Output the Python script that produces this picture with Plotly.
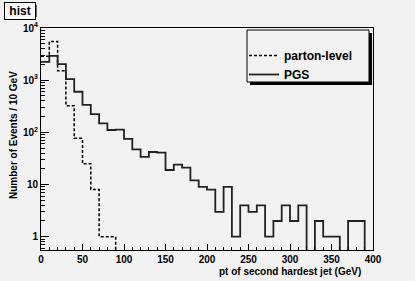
import numpy as np
import plotly.graph_objects as go

# ---- data (events per 10 GeV bin, 0-400 GeV) ----
bin_edges = list(range(0, 410, 10))
pgs_counts = [2250, 2930, 2035, 1050, 600, 336, 224, 149, 111, 113,
              75, 47, 34, 42, 41, 19, 24, 21, 12, 9,
              8, 3, 9, 1, 4, 3, 4, 1, 2, 4,
              2, 4, 0, 2, 1, 1, 0, 2, 2, 0]
parton_counts = [2860, 5540, 1515, 324, 77, 25, 8, 1, 1, 0,
                 0, 0, 0, 0, 0, 0, 0, 0, 0, 0,
                 0, 0, 0, 0, 0, 0, 0, 0, 0, 0,
                 0, 0, 0, 0, 0, 0, 0, 0, 0, 0]
series_names = ["parton-level", "PGS"]
ytick_vals = [1, 10, 100, 1000, 10000]
ytick_text = ["1", "10", "10<sup>2</sup>", "10<sup>3</sup>", "10<sup>4</sup>"]

W, H = 415, 281
L, R, T, B = 41, 373, 28, 250
BG = "#f2f2f2"
FONT = "Liberation Sans"


def step_xy(counts, floor=0.05):
    ys = [c if c > 0 else floor for c in counts]
    xs = bin_edges[:-1] + [bin_edges[-1]]
    ys = ys + [ys[-1]]
    return xs, ys


fig = go.Figure()
x1, y1 = step_xy(parton_counts)
fig.add_trace(go.Scatter(x=x1, y=y1, mode="lines", line_shape="hv",
                         name=series_names[0],
                         line=dict(color="black", width=1.5, dash="3px,2px")))
x2, y2 = step_xy(pgs_counts)
fig.add_trace(go.Scatter(x=x2, y=y2, mode="lines", line_shape="hv",
                         name=series_names[1],
                         line=dict(color="#222222", width=1.8)))


def px(x):
    return (x - L) / (R - L)


def py(y):
    return (B - y) / (B - T)


fig.update_layout(
    width=W, height=H,
    margin=dict(l=L, r=W - R, t=T, b=H - B, pad=0),
    paper_bgcolor=BG, plot_bgcolor=BG,
    font=dict(family=FONT, size=10, color="black", weight="bold"),
    showlegend=True,
    legend=dict(x=px(244), y=py(41), xanchor="left", yanchor="top",
                bgcolor="rgba(0,0,0,0)", borderwidth=0,
                font=dict(family=FONT, size=12, weight="bold"),
                tracegroupgap=0, itemwidth=30),
    xaxis=dict(range=[0, 400], showgrid=False, zeroline=False,
               showline=True, linecolor="black", linewidth=1, mirror=True,
               ticks="inside", ticklen=6, tickcolor="black",
               tickvals=[0, 50, 100, 150, 200, 250, 300, 350, 400],
               minor=dict(ticks="inside", ticklen=3, dtick=10, tickcolor="black", showgrid=False),
               tickfont=dict(family=FONT, size=10, weight="bold")),
    yaxis=dict(type="log", range=[-0.255, 4.0], showgrid=False, zeroline=False,
               showline=True, linecolor="black", linewidth=1, mirror=True,
               ticks="inside", ticklen=8, tickcolor="black",
               tickvals=ytick_vals, ticktext=ytick_text,
               minor=dict(ticks="inside", ticklen=4, dtick="D1", tickcolor="black", showgrid=False),
               tickfont=dict(family=FONT, size=10, weight="bold")),
    annotations=[
        dict(text="<b>&nbsp;hist&nbsp;</b>", xref="paper", yref="paper", x=px(4), y=py(2),
             xanchor="left", yanchor="top", showarrow=False,
             font=dict(family=FONT, size=12, color="black"),
             bordercolor="black", borderwidth=1, borderpad=1, bgcolor="#f8f8f8"),
        dict(text="Number of Events / 10 GeV", xref="paper", yref="paper",
             x=px(13), y=py(135), textangle=-90, showarrow=False,
             xanchor="center", yanchor="middle",
             font=dict(family=FONT, size=10, weight="bold")),
        dict(text="pt of second hardest jet (GeV)", xref="paper", yref="paper",
             x=px(363), y=py(271), showarrow=False, xanchor="right", yanchor="middle",
             font=dict(family=FONT, size=10, weight="bold")),
    ],
    shapes=[
        # legend shadow + frame
        dict(type="rect", xref="paper", yref="paper", layer="above",
             x0=px(250), x1=px(372), y0=py(85), y1=py(33),
             fillcolor="black", line=dict(width=0)),
        dict(type="rect", xref="paper", yref="paper", layer="above",
             x0=px(247), x1=px(369), y0=py(82), y1=py(30),
             fillcolor=BG, line=dict(width=1, color="black")),
        # title box shadow
        dict(type="rect", xref="paper", yref="paper", layer="below",
             x0=px(6), x1=px(37), y0=py(17), y1=py(5),
             fillcolor="#666666", line=dict(width=0)),
    ],
)

fig.write_html("out.html", config={"displayModeBar": False},
               post_script="document.body.style.margin='0px';")
